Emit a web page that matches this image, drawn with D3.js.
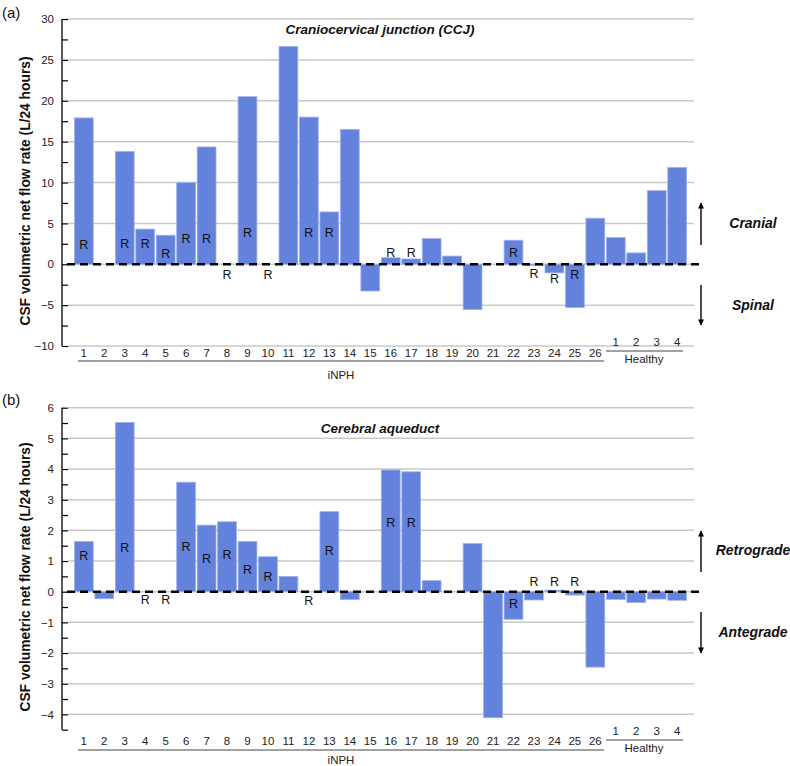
<!DOCTYPE html>
<html>
<head>
<meta charset="utf-8">
<script src="https://cdn.jsdelivr.net/npm/d3@7"></script>
<style>
body { margin: 0; background: #fff; }
svg { display: block; font-family: "Liberation Sans", Arial, sans-serif; }
</style>
</head>
<body>
<svg id="chart" width="790" height="766"></svg>
<script>
// ---------- DATA ----------
const inphLabels = d3.range(1, 27).map(String);
const healthyLabels = ["1", "2", "3", "4"];

// (a) Craniocervical junction
const ccjValues = [17.9, 0, 13.8, 4.3, 3.55, 10.0, 14.35, 0, 20.5, 0, 26.65, 18.0, 6.4, 16.5, -3.27, 0.8, 0.65, 3.14, 1.0, -5.55, 0, 2.94, -0.15, -1.06, -5.3, 5.63,
                   3.27, 1.39, 9.0, 11.84];
// R annotation anchors (data units), null = no R
const ccjR = [2.37, null, 2.45, 2.45, 1.27, 3.14, 3.14, -1.35, 3.8, -1.35, null, 3.8, 3.8, null, null, 1.35, 1.35, null, null, null, null, 1.35, -1.2, -1.84, -1.3, null,
              null, null, null, null];

// (b) Cerebral aqueduct
const aqValues = [1.64, -0.23, 5.52, 0, 0, 3.57, 2.17, 2.28, 1.64, 1.14, 0.5, 0, 2.61, -0.26, 0, 3.97, 3.91, 0.36, 0, 1.57, -4.11, -0.9, -0.27, 0.05, -0.11, -2.46,
                  -0.25, -0.35, -0.24, -0.28];
const aqR = [1.17, null, 1.43, -0.27, -0.27, 1.47, 1.07, 1.2, 0.71, 0.49, null, -0.29, 1.33, null, null, 2.23, 2.23, null, null, null, null, -0.41, 0.32, 0.32, 0.32, null,
             null, null, null, null];

const ccjTicks = d3.range(-10, 30.01, 5);
const aqTicks = d3.range(-4, 6.01, 1);

// ---------- DRAW ----------
const svg = d3.select("#chart");
const keys = inphLabels.map(d => "i" + d).concat(healthyLabels.map(d => "h" + d));

const x = d3.scaleBand().domain(keys).range([74, 687]).paddingInner(0.08).paddingOuter(0.02);

const barColor = "#6282dc";
const axisX = 62, gridRight = 694, zeroRight = 703;

function panel(cfg) {
  const g = svg.append("g");
  const y = d3.scaleLinear().domain(cfg.domain).range(cfg.range);

  // gridlines
  g.selectAll("line.grid").data(cfg.ticks).join("line")
    .attr("x1", axisX + 6).attr("x2", gridRight)
    .attr("y1", d => y(d)).attr("y2", d => y(d))
    .attr("stroke", "#c8c8c8").attr("stroke-width", 1.5);

  // y axis
  const axis = d3.axisLeft(y).tickValues(d3.range(cfg.domain[0], cfg.domain[1] + 1e-9, cfg.minor))
    .tickSize(-6).tickFormat(d => cfg.ticks.some(t => Math.abs(t - d) < 1e-9) ? d3.format("d")(d) : "");
  const ax = g.append("g").attr("transform", `translate(${axisX},0)`).call(axis);
  ax.select(".domain").attr("stroke", "#000").attr("stroke-width", 1.3).attr("d", `M0,${cfg.range[1]}V${cfg.range[0]}`);
  ax.selectAll(".tick line").attr("stroke", "#000").attr("stroke-width", 1.2);
  ax.selectAll(".tick text").attr("x", -8).attr("font-size", 11.5).attr("fill", "#222")
    .attr("font-family", "'Liberation Sans', Arial, sans-serif");

  // bars
  g.selectAll("rect.bar").data(cfg.values).join("rect")
    .attr("x", (d, i) => x(keys[i]))
    .attr("width", x.bandwidth())
    .attr("y", d => y(Math.max(0, d)))
    .attr("height", d => Math.abs(y(d) - y(0)))
    .attr("fill", barColor)
    .attr("stroke", "#9fb2ee").attr("stroke-width", 0.8);

  // zero dashed line
  g.append("line").attr("x1", axisX + 5).attr("x2", zeroRight)
    .attr("y1", y(0)).attr("y2", y(0))
    .attr("stroke", "#000").attr("stroke-width", 2.6).attr("stroke-dasharray", "8,5");

  // R labels
  g.selectAll("text.r").data(cfg.rPos.map((p, i) => ({p, i})).filter(d => d.p !== null)).join("text")
    .attr("x", d => x(keys[d.i]) + x.bandwidth() / 2)
    .attr("y", d => y(d.p))
    .attr("text-anchor", "middle").attr("dominant-baseline", "central")
    .attr("font-size", 12.5).attr("fill", "#111").text("R");

  // category labels
  g.selectAll("text.ci").data(inphLabels).join("text")
    .attr("x", d => x("i" + d) + x.bandwidth() / 2).attr("y", cfg.catY)
    .attr("text-anchor", "middle").attr("dominant-baseline", "central")
    .attr("font-size", 11.5).attr("fill", "#222").text(d => d);
  g.selectAll("text.ch").data(healthyLabels).join("text")
    .attr("x", d => x("h" + d) + x.bandwidth() / 2).attr("y", cfg.hCatY)
    .attr("text-anchor", "middle").attr("dominant-baseline", "central")
    .attr("font-size", 11.5).attr("fill", "#222").text(d => d);

  // group underlines
  g.append("line").attr("x1", 78).attr("x2", 604).attr("y1", cfg.lineY).attr("y2", cfg.lineY)
    .attr("stroke", "#444").attr("stroke-width", 1.2);
  g.append("line").attr("x1", 606).attr("x2", 683).attr("y1", cfg.hLineY).attr("y2", cfg.hLineY)
    .attr("stroke", "#444").attr("stroke-width", 1.2);
  g.append("text").attr("x", 341).attr("y", cfg.groupY).attr("text-anchor", "middle")
    .attr("dominant-baseline", "central").attr("font-size", 11.5).attr("fill", "#222").text("iNPH");
  g.append("text").attr("x", 644).attr("y", cfg.hGroupY).attr("text-anchor", "middle")
    .attr("dominant-baseline", "central").attr("font-size", 11.5).attr("fill", "#222").text("Healthy");

  // title
  g.append("text").attr("x", 380).attr("y", cfg.titleY).attr("text-anchor", "middle")
    .attr("dominant-baseline", "central").attr("font-size", 13.5).attr("font-weight", "bold")
    .attr("font-style", "italic").attr("fill", "#111").text(cfg.title);

  // y-axis title
  g.append("text").attr("transform", `translate(25,${cfg.yLabelY}) rotate(-90)`)
    .attr("text-anchor", "middle").attr("dominant-baseline", "central")
    .attr("font-size", 13.8).attr("font-weight", "bold").attr("fill", "#111")
    .text("CSF volumetric net flow rate (L/24 hours)");

  // panel tag
  g.append("text").attr("x", 2).attr("y", cfg.tagY).attr("dominant-baseline", "central")
    .attr("font-size", 15).attr("fill", "#111").text(cfg.tag);

  // direction arrows
  const defsId = "ah" + cfg.tag.replace(/\W/g, "");
  svg.append("defs").append("marker").attr("id", defsId).attr("viewBox", "0 0 10 10")
    .attr("refX", 9).attr("refY", 5).attr("markerWidth", 8).attr("markerHeight", 6)
    .attr("markerUnits", "userSpaceOnUse").attr("orient", "auto")
    .append("path").attr("d", "M0,0L10,5L0,10z").attr("fill", "#000");
  cfg.arrows.forEach(a => {
    g.append("line").attr("x1", 701).attr("x2", 701).attr("y1", a.from).attr("y2", a.to)
      .attr("stroke", "#000").attr("stroke-width", 1.4).attr("marker-end", `url(#${defsId})`);
    g.append("text").attr("x", 753).attr("y", a.textY).attr("text-anchor", "middle")
      .attr("dominant-baseline", "central").attr("font-size", 14).attr("font-weight", "bold")
      .attr("font-style", "italic").attr("fill", "#111").text(a.text);
  });
}

panel({
  tag: "(a)", tagY: 12,
  domain: [-10, 30], range: [346, 19], ticks: ccjTicks, minor: 2.5,
  values: ccjValues, rPos: ccjR,
  catY: 353, hCatY: 342, lineY: 361, hLineY: 351, groupY: 375, hGroupY: 359,
  title: "Craniocervical junction (CCJ)", titleY: 29, yLabelY: 191,
  arrows: [{from: 245, to: 203, text: "Cranial", textY: 223},
           {from: 285, to: 325, text: "Spinal", textY: 305}]
});

panel({
  tag: "(b)", tagY: 399,
  domain: [-4.5, 6], range: [729.7, 407.7], ticks: aqTicks, minor: 0.5,
  values: aqValues, rPos: aqR,
  catY: 741, hCatY: 731, lineY: 750, hLineY: 740, groupY: 760, hGroupY: 748,
  title: "Cerebral aqueduct", titleY: 428, yLabelY: 577,
  arrows: [{from: 572, to: 531, text: "Retrograde", textY: 550},
           {from: 612, to: 653, text: "Antegrade", textY: 632}]
});
</script>
</body>
</html>
